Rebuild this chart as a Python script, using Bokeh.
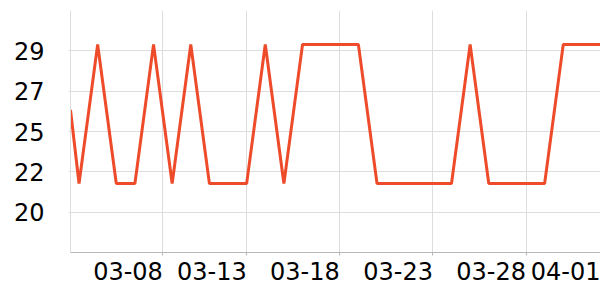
import pandas as pd
from bokeh.plotting import figure
from bokeh.models import FixedTicker, Range1d, ColumnDataSource, DatetimeAxis
from bokeh.embed import file_html
from bokeh.resources import INLINE

# ---- data ----
dates = ["2020-03-03 13:00", "2020-03-04", "2020-03-05", "2020-03-06", "2020-03-07",
         "2020-03-08", "2020-03-09", "2020-03-10", "2020-03-11", "2020-03-12",
         "2020-03-13", "2020-03-14", "2020-03-15", "2020-03-16", "2020-03-17",
         "2020-03-18", "2020-03-19", "2020-03-20", "2020-03-21", "2020-03-22",
         "2020-03-23", "2020-03-24", "2020-03-25", "2020-03-26", "2020-03-27",
         "2020-03-28", "2020-03-29", "2020-03-30", "2020-03-31", "2020-04-01"]
values = [25.7, 21.6, 29.35, 21.6, 21.6,
          29.35, 21.6, 29.35, 21.6, 21.6,
          21.6, 29.35, 21.6, 29.35, 29.35,
          29.35, 29.35, 21.6, 21.6, 21.6,
          21.6, 21.6, 29.35, 21.6, 21.6,
          21.6, 21.6, 29.35, 29.35, 29.35]

x_tick_dates = ["2020-03-08 12:00", "2020-03-13", "2020-03-18", "2020-03-23",
                "2020-03-28", "2020-04-01"]
x_tick_labels = ["03-08", "03-13", "03-18", "03-23", "03-28", "04-01"]

y_ticks = [20, 22.25, 24.5, 26.75, 29]
y_tick_labels = ["20", "22", "25", "27", "29"]

# ---- build ----
ts = [pd.Timestamp(d) for d in dates]
src = ColumnDataSource(dict(x=ts, y=values))

def ms(s):
    return int(pd.Timestamp(s).value // 10**6)

x_start = ms(dates[0])
x_end = ms(dates[-1])
DAY = 86400000
label_shift = 1.87 * DAY   # labels sit right-aligned on their tick

p = figure(width=600, height=300, x_axis_type="datetime",
           output_backend="svg", toolbar_location=None,
           x_range=Range1d(x_start, x_end), y_range=Range1d(17.75, 31.25),
           min_border_left=70, min_border_right=0, min_border_top=10,
           min_border_bottom=48)

p.line("x", "y", source=src, line_color="#ee4b2b", line_width=3)

grid_ticks = [ms(d) for d in x_tick_dates]
label_pos = [int(t - label_shift) for t in grid_ticks]

# tick-mark axis (no labels)
p.xgrid.ticker = FixedTicker(ticks=grid_ticks)
p.xaxis.ticker = FixedTicker(ticks=grid_ticks)
p.xaxis.major_label_overrides = {t: "" for t in grid_ticks}
p.xaxis.major_label_text_font_size = "0px"
p.xaxis.major_label_standoff = 0
p.xaxis.major_tick_out = 3
p.xaxis.major_tick_in = 0
p.xaxis.minor_tick_out = 0
p.xaxis.minor_tick_in = 0
p.xaxis.axis_line_color = "#b8b8b8"
p.xaxis.major_tick_line_color = "#b8b8b8"

# label axis
lab_ax = DatetimeAxis(ticker=FixedTicker(ticks=label_pos),
                      major_label_overrides={t: l for t, l in zip(label_pos, x_tick_labels)},
                      axis_line_color=None, major_tick_line_color=None,
                      minor_tick_line_color=None,
                      major_tick_out=0, major_tick_in=0,
                      minor_tick_out=0, minor_tick_in=0,
                      major_label_standoff=6,
                      major_label_text_font="DejaVu Sans",
                      major_label_text_font_size="24px",
                      major_label_text_color="#000000")
p.add_layout(lab_ax, "below")

p.yaxis.ticker = FixedTicker(ticks=y_ticks)
p.yaxis.major_label_overrides = {t: l for t, l in zip(y_ticks, y_tick_labels)}
p.yaxis.major_tick_out = 2
p.yaxis.major_tick_in = 0
p.yaxis.minor_tick_out = 0
p.yaxis.minor_tick_in = 0
p.yaxis.axis_line_color = "#dddddd"
p.yaxis.major_tick_line_color = "#dddddd"
p.yaxis.major_label_standoff = 24
p.yaxis.major_label_text_font = "DejaVu Sans"
p.yaxis.major_label_text_font_size = "24px"
p.yaxis.major_label_text_color = "#000000"

p.xgrid.grid_line_color = "#dddddd"
p.ygrid.grid_line_color = "#dddddd"
p.outline_line_color = None

open("out.html", "w").write(file_html(p, INLINE))
